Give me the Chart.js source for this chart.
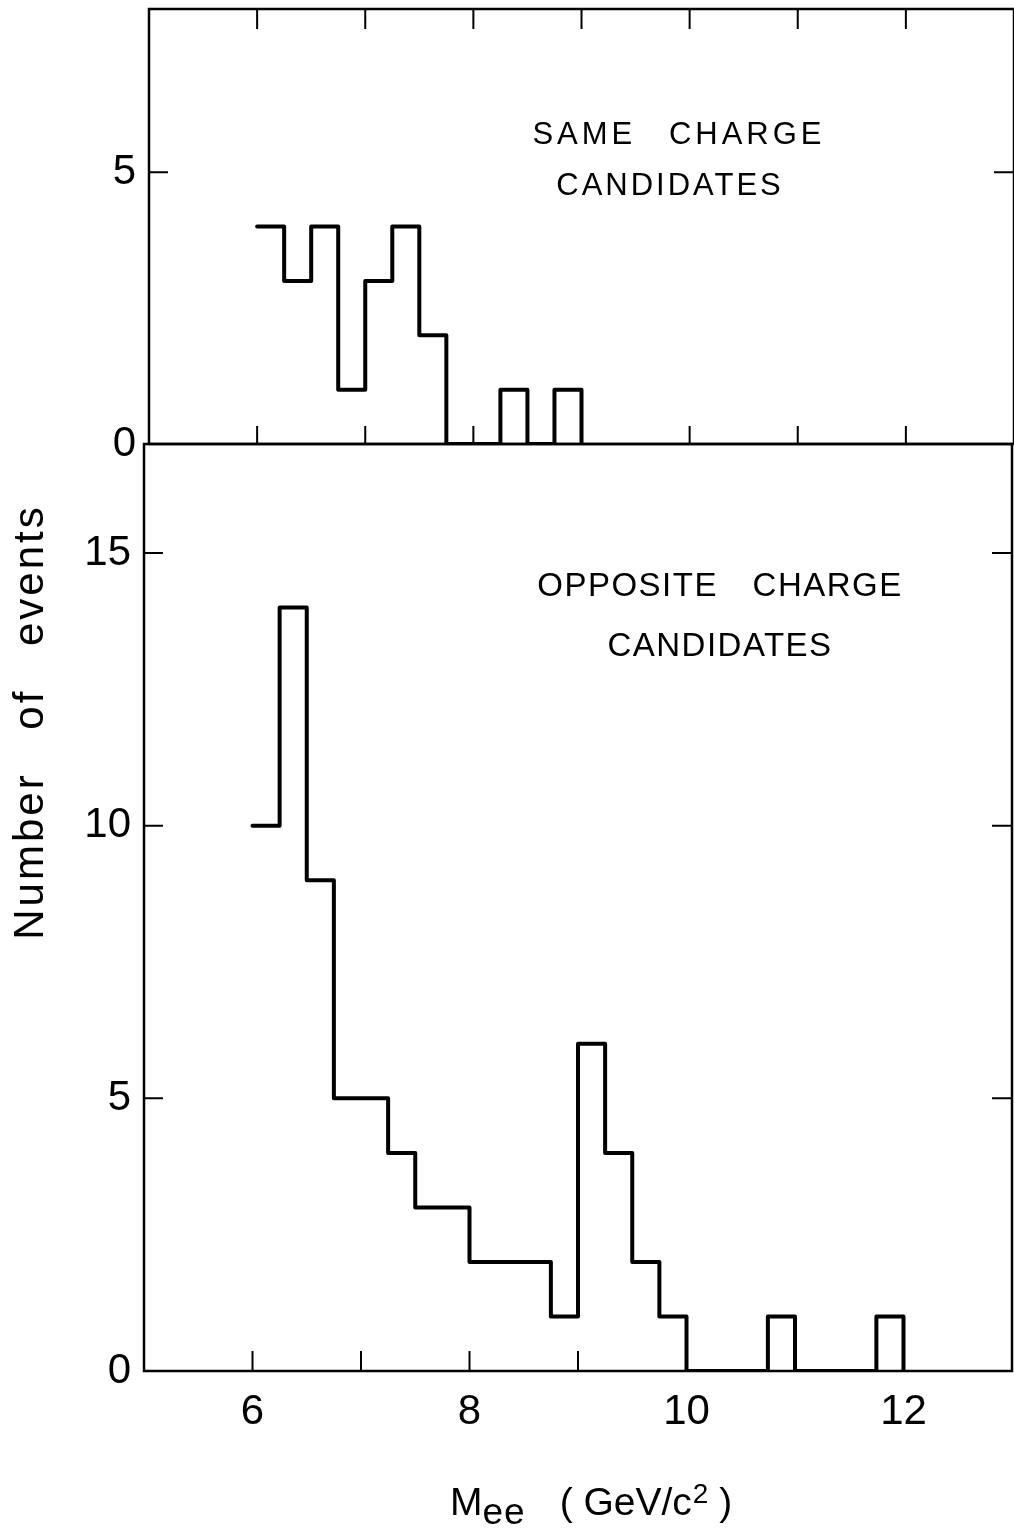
<!DOCTYPE html>
<html lang="en">
  <head>
    <meta charset="UTF-8" />
    <title>Mee spectrum</title>
    <script src="https://cdn.jsdelivr.net/npm/chart.js"></script>
    <style>
      body { margin: 0; background: #fff; }
      #page { position: relative; width: 1014px; height: 1529px; overflow: hidden; background: #fff;
              font-family: "Liberation Sans", Arial, sans-serif; color: #000; }
      canvas { position: absolute; left: 0; }
      .note { position: absolute; white-space: nowrap; line-height: 1; transform: translateX(-50%); }
      #ytitle { position: absolute; width: 600px; height: 42px; line-height: 42px; text-align: center;
                font-size: 42px; letter-spacing: 3px; word-spacing: 28px; transform: rotate(-90deg); }
      #xtitle { position: absolute; font-size: 39px; line-height: 1; white-space: nowrap; }
      #xtitle .sub { font-size: 37px; position: relative; top: 9px; letter-spacing: 1px; }
      #xtitle .unit { margin-left: 34px; }
      #xtitle .sup { font-size: 28px; position: relative; top: -12px; margin-left: 1px; }
    </style>
  </head>
  <body>
    <div id="page">
      <canvas id="same" width="1014" height="460" style="top:0"></canvas>
      <canvas id="opp" width="1014" height="1099" style="top:430px"></canvas>

      <div class="note" style="left:679px; top:118px; font-size:31px; letter-spacing:4px; word-spacing:20px">SAME CHARGE</div>
      <div class="note" style="left:670px; top:169px; font-size:31px; letter-spacing:3px">CANDIDATES</div>
      <div class="note" style="left:720px; top:568px; font-size:33px; letter-spacing:1.5px; word-spacing:24px">OPPOSITE CHARGE</div>
      <div class="note" style="left:720px; top:628px; font-size:33px; letter-spacing:1.5px">CANDIDATES</div>

      <div id="ytitle" style="left:-271px; top:701px">Number of events</div>
      <div id="xtitle" style="left:450px; top:1482px">M<span class="sub">ee</span><span class="unit">( GeV/c<span class="sup">2</span> )</span></div>
    </div>
    <script>
      // lower edges of the 0.25 GeV bins, plus the last upper edge
      const massEdges = [6.0, 6.25, 6.5, 6.75, 7.0, 7.25, 7.5, 7.75, 8.0, 8.25, 8.5, 8.75,
                         9.0, 9.25, 9.5, 9.75, 10.0, 10.25, 10.5, 10.75, 11.0, 11.25, 11.5, 11.75, 12.0];
      const sameCharge = [4, 3, 4, 1, 3, 4, 2, 0, 0, 1, 0, 1];
      const oppositeCharge = [10, 14, 9, 5, 5, 4, 3, 3, 2, 2, 2, 1, 6, 4, 2, 1, 0, 0, 0, 1, 0, 0, 0, 1];

      const xTickMarks = [6, 7, 8, 9, 10, 11, 12];
      const xTickLabels = [6, 8, 10, 12];
      const sameYTicks = [0, 5];
      const oppYTicks = [0, 5, 10, 15];

      Chart.defaults.font.family = '"Liberation Sans", Arial, sans-serif';
      Chart.defaults.color = '#000';

      const steps = (counts) =>
        counts.map((c, i) => ({ x: massEdges[i], y: c }))
          .concat([{ x: massEdges[counts.length], y: 0 }]);

      // box round the panel and the small inward tick marks
      const frame = {
        id: 'frame',
        beforeDatasetsDraw(chart, args, opts) {
          const { ctx, chartArea: a, scales: { x, y } } = chart;
          ctx.save();
          ctx.strokeStyle = '#000';
          ctx.lineWidth = 2.5;
          ctx.strokeRect(a.left, a.top, a.right - a.left, a.bottom - a.top);
          ctx.lineWidth = 2;
          ctx.beginPath();
          xTickMarks.forEach((v) => {
            const px = x.getPixelForValue(v);
            if (opts.top) { ctx.moveTo(px, a.top); ctx.lineTo(px, a.top + opts.top); }
            if (opts.bottom) { ctx.moveTo(px, a.bottom); ctx.lineTo(px, a.bottom - opts.bottom); }
          });
          opts.yTicks.forEach((v) => {
            if (v === 0) return;
            const py = y.getPixelForValue(v);
            ctx.moveTo(a.left, py); ctx.lineTo(a.left + 19, py);
            ctx.moveTo(a.right, py); ctx.lineTo(a.right - 20, py);
          });
          ctx.stroke();
          ctx.restore();
        }
      };

      const histLine = (counts) => ({
        data: steps(counts),
        stepped: true,
        borderColor: '#000',
        borderWidth: 4,
        borderJoinStyle: 'round',
        borderCapStyle: 'round',
        pointRadius: 0,
        fill: false,
      });

      const yAxis = (max, ticks, width) => ({
        type: 'linear',
        min: 0,
        max: max,
        afterBuildTicks: (s) => { s.ticks = ticks.map((v) => ({ value: v })); },
        afterFit: (s) => { s.width = width; s.paddingTop = 0; s.paddingBottom = 0; },
        grid: { display: false, drawTicks: false },
        border: { display: false },
        ticks: { padding: 13, font: { size: 42 } },
      });

      new Chart(document.getElementById('same'), {
        type: 'line',
        data: { datasets: [histLine(sameCharge)] },
        options: {
          responsive: false,
          animation: false,
          layout: { padding: { top: 9, right: 0, bottom: 16, left: 0 } },
          plugins: {
            legend: { display: false },
            tooltip: { enabled: false },
            frame: { top: 20, bottom: 18, yTicks: sameYTicks },
          },
          scales: {
            x: { type: 'linear', min: 5, max: 13, display: false },
            y: yAxis(8, sameYTicks, 149),
          },
        },
        plugins: [frame],
      });

      new Chart(document.getElementById('opp'), {
        type: 'line',
        data: { datasets: [histLine(oppositeCharge)] },
        options: {
          responsive: false,
          animation: false,
          layout: { padding: { top: 14, right: 2, bottom: 0, left: 0 } },
          plugins: {
            legend: { display: false },
            tooltip: { enabled: false },
            frame: { top: 0, bottom: 20, yTicks: oppYTicks },
          },
          scales: {
            x: {
              type: 'linear',
              min: 5,
              max: 13,
              afterBuildTicks: (s) => { s.ticks = xTickLabels.map((v) => ({ value: v })); },
              afterFit: (s) => { s.height = 158; s.paddingLeft = 0; s.paddingRight = 0; },
              grid: { display: false, drawTicks: false },
              border: { display: false },
              ticks: { padding: 16, maxRotation: 0, font: { size: 42 } },
            },
            y: yAxis(17, oppYTicks, 144),
          },
        },
        plugins: [frame],
      });
    </script>
  </body>
</html>
